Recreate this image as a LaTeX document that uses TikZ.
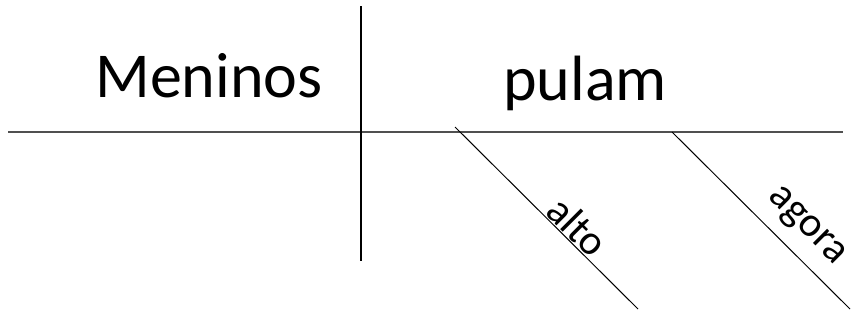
\documentclass[tikz,border=0pt]{standalone}
\usepackage{fontspec}
\setmainfont{Carlito}
\definecolor{baseline}{RGB}{80,80,80}
\tikzset{
  bigword/.style={inner sep=0pt, font=\fontsize{64}{76}\selectfont, anchor=base},
  modword/.style={inner sep=0pt, font=\fontsize{42}{50}\selectfont, rotate=-45, anchor=center},
  mainline/.style={draw=baseline, line width=2pt},
  divline/.style={draw=black, line width=1.5pt},
  modline/.style={draw=black, line width=1pt}
}
\begin{document}
\begin{tikzpicture}[x=1pt,y=-1pt]
\useasboundingbox (0,0) rectangle (859,327);
\coordinate (hl) at (8,132);
\coordinate (hr) at (843,132);
\coordinate (vt) at (361,6);
\coordinate (vb) at (361,261);
\coordinate (d1s) at (455,127);
\coordinate (d1e) at (638,309);
\coordinate (d2s) at (672,132);
\coordinate (d2e) at (850,309);
\draw[mainline] (hl) -- (hr);
\draw[divline] (vt) -- (vb);
\draw[modline] (d1s) -- (d1e);
\draw[modline] (d2s) -- (d2e);
\node[bigword] (subj) at (209,97) {Meninos};
\node[bigword] (verb) at (585,100) {pulam};
\node[modword] (m1) at (578,226) {alto};
\node[modword] (m2) at (806,227) {agora};
\end{tikzpicture}
\end{document}
